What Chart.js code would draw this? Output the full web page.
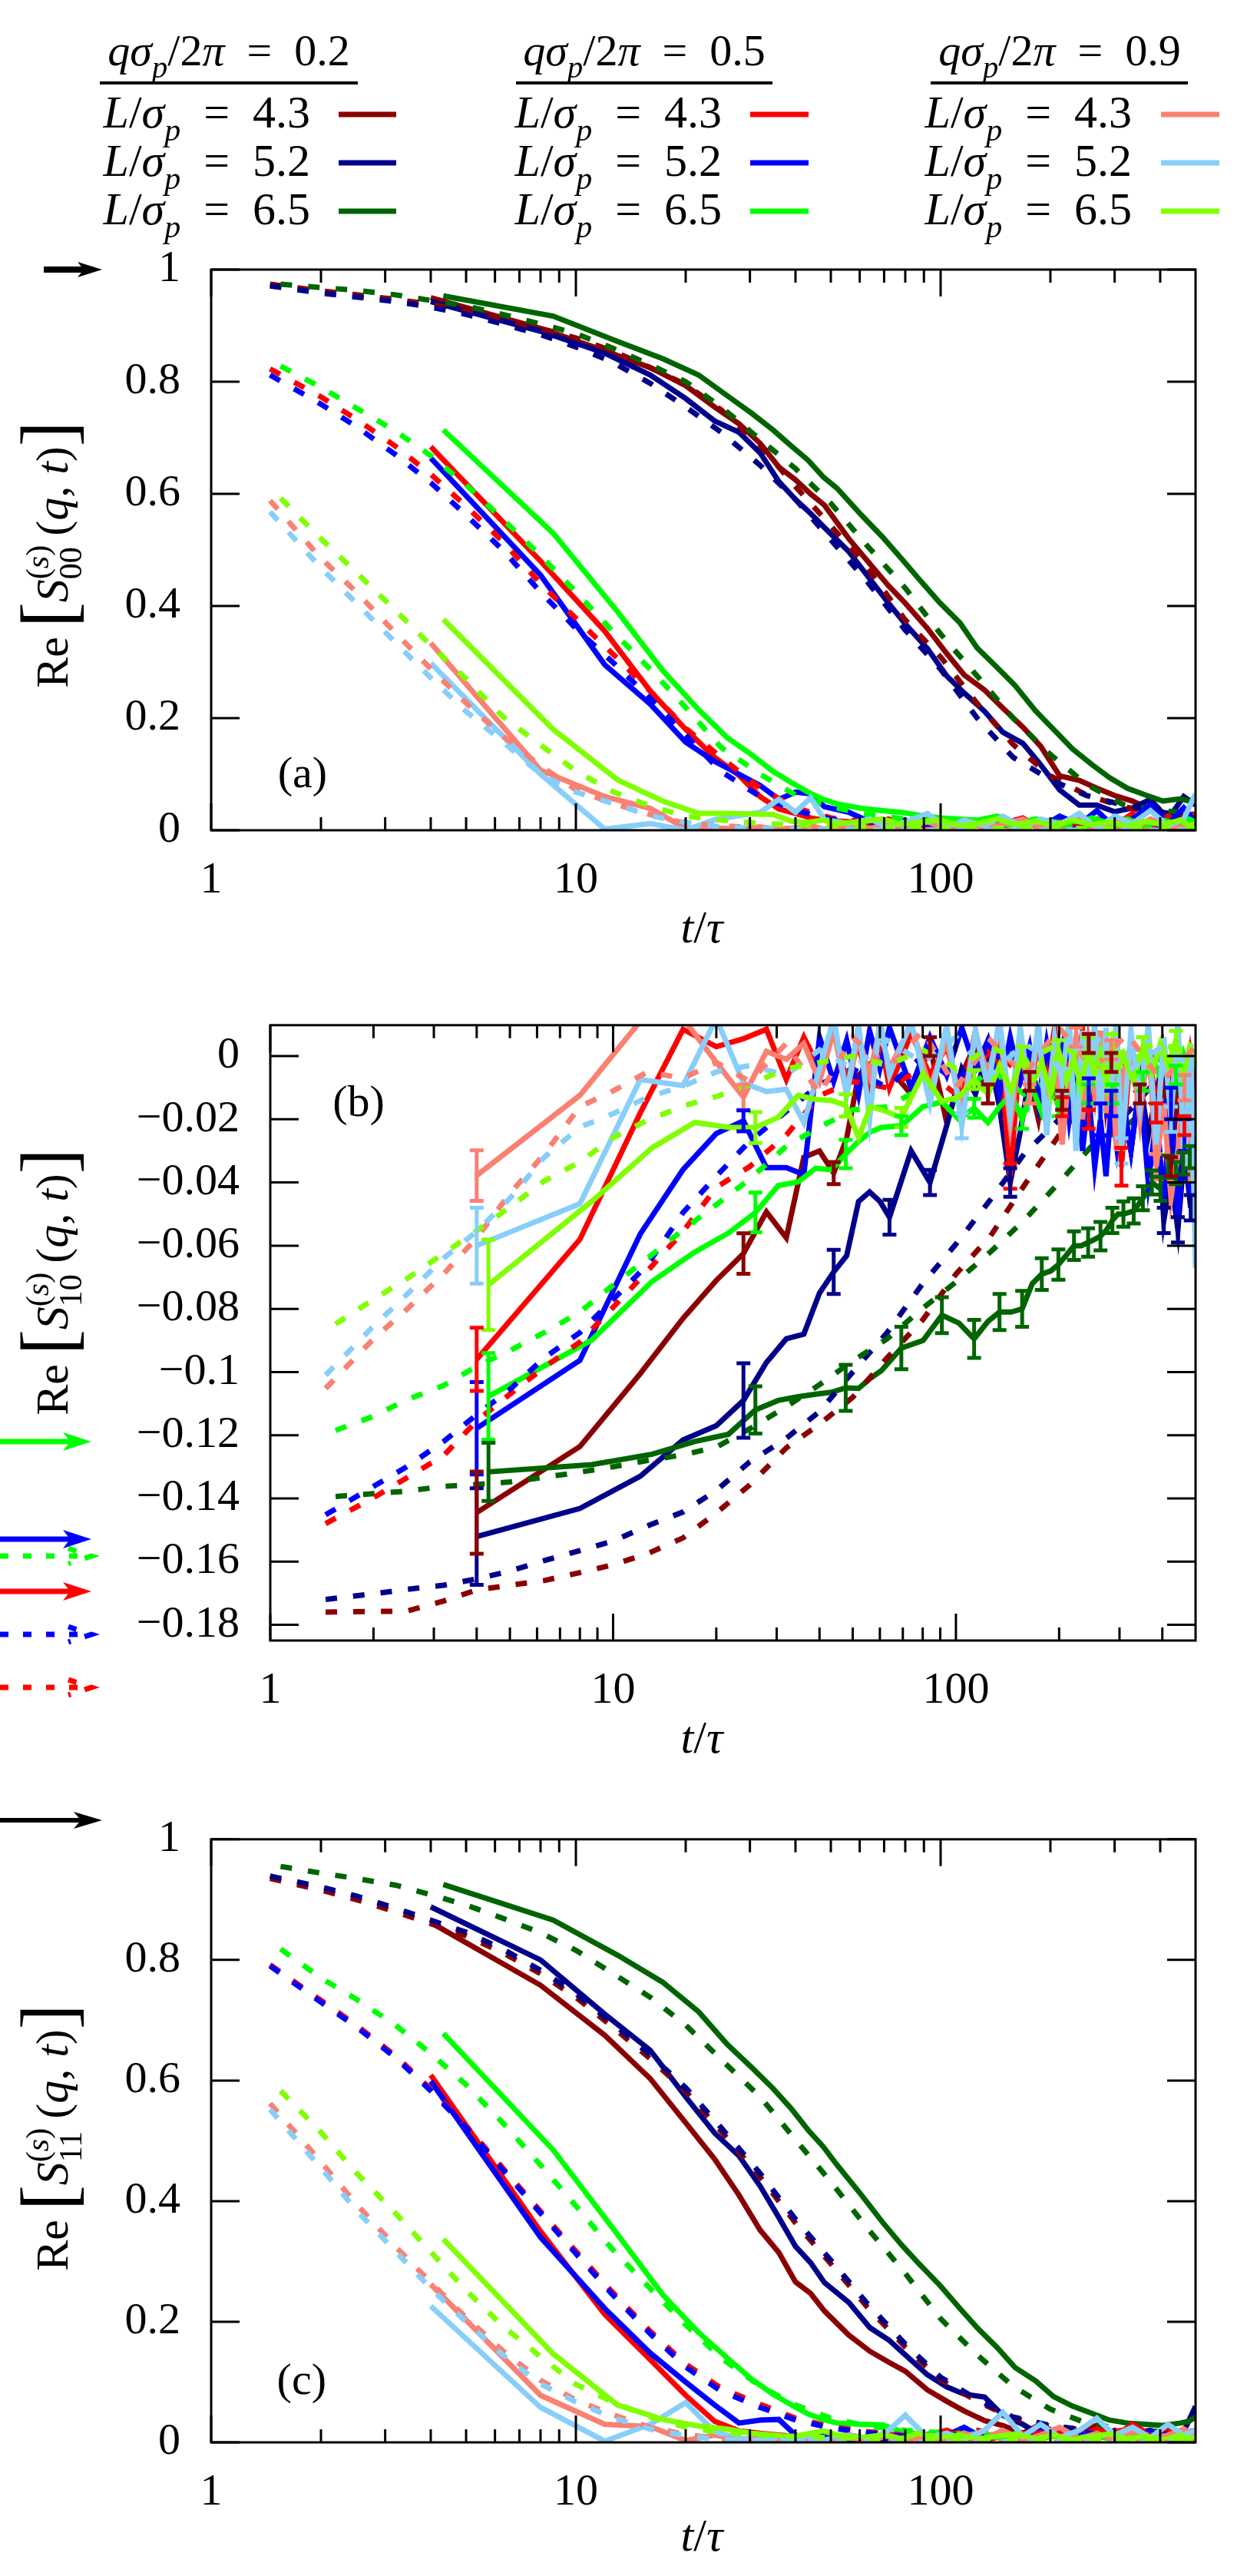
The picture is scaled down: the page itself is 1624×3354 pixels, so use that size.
<!DOCTYPE html>
<html>
<head>
<meta charset="utf-8">
<script src="https://cdn.jsdelivr.net/npm/chart.js@4.4.1/dist/chart.umd.min.js"></script>
<style>
  body { margin: 0; background: #fff; }
  #wrap { position: relative; width: 1624px; height: 3354px; background: #fff; }
  canvas { position: absolute; left: 0; }
</style>
</head>
<body>
<div id="wrap">
  <canvas id="panelA" width="1624" height="1260" style="top:0px"></canvas>
  <canvas id="panelB" width="1624" height="1060" style="top:1260px"></canvas>
  <canvas id="panelC" width="1624" height="1034" style="top:2320px"></canvas>
</div>
<script>
// legend categories
const qValues = ['0.2', '0.5', '0.9'];
const lValues = ['4.3', '5.2', '6.5'];

// axes
const xMajor = [1, 10, 100];
const xMinor = [2, 3, 4, 5, 6, 7, 8, 9, 20, 30, 40, 50, 60, 70, 80, 90, 200, 300, 400];
const yTicksA = [0, 0.2, 0.4, 0.6, 0.8, 1];
const yTicksB = [0, -0.02, -0.04, -0.06, -0.08, -0.1, -0.12, -0.14, -0.16, -0.18];

// time grids: theory curves (dashed) and simulation runs (solid)
const tTh  = [1.45, 2, 2.5, 3.2, 4, 5, 6.3, 8, 10, 12.6, 16, 20, 25, 32, 40, 50, 63, 80, 100, 126, 158, 200, 251, 316, 398, 500];
const tThB = [1.55, 2, 2.5, 3.2, 4, 5, 6.3, 8, 10, 12.6, 16, 20, 25, 32, 40, 50, 63, 80, 100, 126, 158, 200, 251, 316, 398, 500];
const tSimA = [4, 8, 12, 16, 20, 24, 28, 32, 36, 40, 44, 48, 56, 64, 72, 80, 92, 104, 116, 132, 148, 168, 188, 212, 240, 268, 300, 336, 376, 420, 464, 500];
const tSimB = [4.33, 8.66, 13, 17.3, 21.7, 26, 30.3, 34.7, 39, 43.3, 47.7, 52, 60.7, 69.3, 78, 86.7, 99.7, 113, 126, 143, 160, 182, 204, 230, 260, 290, 325, 364, 407, 455, 480, 500];
// denser simulation grids used in panel (b)
const tSimA2 = [4, 8, 12, 16, 20, 24, 28, 32, 36, 40, 44, 48, 52, 56, 60, 64, 74, 84, 94, 104, 114, 124, 134, 144, 154, 164, 174, 184, 194, 204, 214, 224, 234, 244, 254, 264, 274, 284, 294, 304, 324, 344, 364, 384, 404, 424, 444, 464, 484, 500];
const tSimB2 = [4.33, 8.66, 13, 17.3, 21.7, 26, 30.3, 34.7, 39, 43.3, 47.7, 52, 56.3, 60.7, 69.3, 80.2, 91, 102, 113, 124, 134, 145, 156, 167, 178, 189, 199, 210, 221, 232, 243, 254, 264, 275, 286, 297, 308, 330, 351, 373, 395, 416, 438, 460, 481, 500];

// ---- panel (a): S00 ----
const aThDR = [0.974,0.962,0.955,0.947,0.938,0.925,0.91,0.895,0.878,0.855,0.825,0.795,0.75,0.686,0.613,0.543,0.468,0.375,0.309,0.226,0.153,0.097,0.063,0.042,0.03,0.025];
const aThNV = [0.971,0.958,0.951,0.943,0.933,0.92,0.903,0.884,0.862,0.835,0.797,0.755,0.71,0.651,0.59,0.518,0.443,0.357,0.287,0.2,0.13,0.09,0.062,0.045,0.032,0.025];
const aThDG = [0.974,0.968,0.963,0.955,0.945,0.935,0.92,0.903,0.886,0.86,0.83,0.8,0.755,0.697,0.645,0.583,0.507,0.432,0.35,0.275,0.2,0.135,0.082,0.046,0.035,0.03];
const aThR  = [0.823,0.773,0.733,0.685,0.635,0.578,0.515,0.44,0.378,0.315,0.248,0.182,0.13,0.075,0.04,0.022,0.015,0.01,0.008,0.005,0.01,0.004,0.008,0.003,0.006,0.002];
const aThB  = [0.812,0.76,0.72,0.67,0.62,0.562,0.5,0.425,0.36,0.3,0.235,0.17,0.105,0.06,0.035,0.02,0.012,0.008,0.006,0.01,0.004,0.007,0.003,0.009,0.002,0.005];
const aThG  = [0.828,0.79,0.753,0.712,0.668,0.616,0.555,0.49,0.425,0.355,0.287,0.219,0.148,0.1,0.063,0.042,0.028,0.02,0.015,0.012,0.01,0.008,0.007,0.006,0.005,0.005];
const aThS  = [0.588,0.485,0.425,0.352,0.288,0.227,0.168,0.115,0.072,0.048,0.028,0.012,0.008,0.004,0.003,0.002,0.002,0.001,0.001,0,0,0,0,0,0,0];
const aThLB = [0.568,0.468,0.405,0.335,0.272,0.212,0.158,0.1,0.068,0.048,0.026,0.014,0.006,0.003,0.002,0.001,0.001,0,0,0,0,0,0,0,0,0];
const aThYG = [0.592,0.52,0.46,0.392,0.33,0.27,0.203,0.152,0.106,0.069,0.043,0.025,0.018,0.012,0.01,0.008,0.006,0.005,0.004,0.004,0.003,0.003,0.003,0.003,0.003,0.003];

const aDR = [0.95,0.895,0.855,0.825,0.793,0.755,0.725,0.69,0.648,0.625,0.6,0.58,0.52,0.475,0.436,0.405,0.36,0.315,0.277,0.25,0.218,0.184,0.15,0.097,0.089,0.075,0.062,0.052,0.037,0.03,0.026,0.029];
const aNV = [0.943,0.89,0.851,0.812,0.77,0.73,0.71,0.673,0.622,0.59,0.565,0.54,0.497,0.448,0.405,0.368,0.324,0.275,0.245,0.212,0.175,0.155,0.117,0.072,0.045,0.045,0.033,0.04,0.055,0.02,0.06,0.045];
const aDG = [0.953,0.917,0.872,0.841,0.812,0.775,0.744,0.714,0.685,0.66,0.63,0.61,0.562,0.523,0.485,0.45,0.405,0.37,0.325,0.29,0.258,0.213,0.18,0.145,0.117,0.094,0.075,0.063,0.052,0.056,0.052,0.057];
const aR  = [0.684,0.48,0.355,0.248,0.18,0.13,0.098,0.06,0.038,0.03,0.022,0.018,0.015,0.012,0.02,0.01,0.015,0.005,0.018,0.004,0.012,0.022,0.003,0.015,0.006,0.02,0.008,0.03,0.004,0.025,0.01,0.03];
const aB  = [0.664,0.455,0.295,0.225,0.157,0.123,0.1,0.08,0.055,0.068,0.065,0.042,0.032,0.015,0.012,0.018,0.006,0.014,0.003,0.02,0.008,0.015,0.005,0.025,0.01,0.035,0.005,0.02,0.045,0.01,0.04,0.015];
const aG  = [0.714,0.53,0.39,0.285,0.215,0.165,0.135,0.105,0.085,0.068,0.055,0.047,0.039,0.035,0.032,0.027,0.022,0.02,0.018,0.025,0.012,0.02,0.015,0.01,0.022,0.012,0.02,0.008,0.018,0.01,0.02,0.015];
const aS  = [0.334,0.107,0.06,0.039,0.003,0.004,0.002,0.006,0.001,0.004,0.008,0.002,0.01,0.003,0.012,0.004,0.015,0.002,0.018,0.005,0.01,0.02,0.003,0.012,0.025,0.005,0.015,0.002,0.02,0.008,0.004,0.012];
const aLB = [0.298,0.1,0.002,0.012,0,0.019,0.026,0.032,0.055,0.032,0.058,0.019,0.012,0.02,0.005,0.015,0.03,0.004,0.018,0.008,0.025,0.006,0.02,0.01,0.03,0.004,0.025,0.012,0.035,0.008,0.02,0.065];
const aYG = [0.376,0.18,0.09,0.052,0.03,0.03,0.029,0.028,0.016,0.014,0.018,0.012,0.015,0.02,0.01,0.014,0.018,0.008,0.012,0.02,0.01,0.016,0.008,0.018,0.01,0.015,0.007,0.016,0.01,0.018,0.008,0.012];

// ---- panel (b): S10 ----
const bThDR = [-0.176,-0.1758,-0.1757,-0.1725,-0.169,-0.1675,-0.166,-0.1635,-0.161,-0.1575,-0.1525,-0.1446,-0.1358,-0.124,-0.1165,-0.108,-0.0955,-0.0835,-0.069,-0.057,-0.041,-0.025,-0.013,-0.008,-0.02,-0.01];
const bThNV = [-0.172,-0.1702,-0.1688,-0.1675,-0.1655,-0.163,-0.1597,-0.1565,-0.1535,-0.1487,-0.1443,-0.1375,-0.1285,-0.121,-0.1125,-0.1,-0.0875,-0.072,-0.0595,-0.0455,-0.031,-0.02,-0.012,-0.018,-0.006,-0.012];
const bThDG = [-0.1394,-0.1385,-0.1377,-0.1362,-0.1356,-0.1348,-0.1333,-0.1317,-0.13,-0.128,-0.1262,-0.1238,-0.118,-0.111,-0.104,-0.0965,-0.0895,-0.0798,-0.0715,-0.062,-0.052,-0.04,-0.028,-0.022,-0.012,-0.008];
const bThR  = [-0.148,-0.1398,-0.1335,-0.1265,-0.1155,-0.107,-0.0985,-0.0905,-0.0795,-0.068,-0.0555,-0.0415,-0.035,-0.025,-0.0125,-0.008,-0.01,-0.004,-0.012,0.002,-0.006,-0.014,0.004,-0.008,0.002,-0.006];
const bThB  = [-0.1452,-0.1362,-0.13,-0.122,-0.1135,-0.1055,-0.0955,-0.0875,-0.077,-0.066,-0.0495,-0.038,-0.027,-0.0175,-0.009,-0.004,-0.01,0,-0.008,0.003,-0.01,0.004,-0.012,0,-0.016,-0.004];
const bThG  = [-0.1185,-0.114,-0.1088,-0.1043,-0.0982,-0.0932,-0.0875,-0.081,-0.0725,-0.064,-0.055,-0.047,-0.039,-0.0285,-0.0225,-0.017,-0.016,-0.01,-0.014,-0.004,-0.012,-0.006,-0.003,-0.01,0,-0.005];
const bThS  = [-0.1052,-0.0895,-0.0802,-0.069,-0.0575,-0.0435,-0.031,-0.016,-0.011,-0.005,-0.007,-0.002,-0.008,0.004,-0.012,0.006,-0.004,0.008,-0.01,0.005,-0.006,0.009,-0.004,0.007,-0.008,0.003];
const bThLB = [-0.101,-0.0855,-0.0755,-0.064,-0.0555,-0.045,-0.032,-0.0225,-0.0182,-0.013,-0.0095,-0.005,-0.003,-0.006,0.002,-0.004,0.005,-0.002,0.006,-0.006,0.004,-0.003,0.007,-0.005,0.003,-0.004];
const bThYG = [-0.0848,-0.077,-0.0705,-0.0625,-0.0553,-0.0478,-0.0395,-0.0335,-0.0258,-0.0203,-0.0158,-0.0128,-0.009,-0.004,-0.002,0,-0.003,0.002,-0.004,0.003,-0.002,0.004,-0.003,0.002,0.004,0];

// simulations on tSimA2 (L = 4.3, 5.2) and tSimB2 (L = 6.5)
const bDR = [-0.1445,-0.1236,-0.1005,-0.083,-0.071,-0.0625,-0.0493,-0.0575,-0.032,-0.03,-0.037,-0.026,-0.006,-0.003,0.002,-0.004,-0.012,0.003,-0.021,-0.006,0.004,-0.012,-0.002,-0.018,0.005,-0.008,-0.02,-0.004,0.006,-0.014,0.002,-0.01,-0.022,0.004,-0.008,0.008,-0.015,-0.002,0.005,-0.018,0.003,-0.012,0.006,-0.02,-0.006,-0.035,-0.01,-0.028,-0.004,-0.012];
const bNV = [-0.1521,-0.1432,-0.133,-0.1215,-0.117,-0.109,-0.097,-0.0895,-0.088,-0.075,-0.0683,-0.0632,-0.046,-0.043,-0.046,-0.051,-0.03,-0.04,-0.022,-0.004,-0.012,0.002,-0.016,-0.04,-0.024,-0.006,0.004,-0.012,-0.003,-0.018,0.002,-0.01,-0.02,-0.005,0.003,-0.015,-0.006,-0.022,-0.002,-0.014,-0.03,-0.008,-0.025,-0.012,-0.052,-0.038,-0.055,-0.03,-0.048,-0.02];
const bDG = [-0.1316,-0.1293,-0.126,-0.122,-0.1197,-0.112,-0.109,-0.1078,-0.107,-0.1064,-0.105,-0.1052,-0.102,-0.0995,-0.0924,-0.09,-0.082,-0.0845,-0.0895,-0.084,-0.081,-0.081,-0.08,-0.072,-0.069,-0.068,-0.066,-0.063,-0.06,-0.06,-0.059,-0.058,-0.057,-0.055,-0.052,-0.05,-0.05,-0.049,-0.045,-0.04,-0.042,-0.035,-0.037,-0.034,-0.032,-0.029];
const bR  = [-0.096,-0.058,-0.018,0.0085,0.003,0.0055,0.0085,-0.0074,0.006,-0.004,0.009,-0.008,0.004,-0.012,0.006,-0.01,0.007,-0.006,0.003,-0.014,0.008,-0.01,0.004,-0.038,0.002,-0.012,0.005,-0.008,0.009,-0.016,0.003,-0.006,0.008,-0.02,0.002,-0.01,0.006,-0.025,-0.004,-0.035,0.004,-0.012,0.006,-0.018,0.002,-0.01,0.004,-0.022,0,-0.01];
const bB  = [-0.1178,-0.0963,-0.0563,-0.0359,-0.0245,-0.0205,-0.0353,-0.0353,-0.0375,0.006,-0.008,0.005,-0.012,0.008,-0.004,0.009,-0.01,0.006,-0.006,0.009,-0.004,0.005,-0.012,0.006,-0.008,0.003,-0.015,0.004,-0.01,0.002,-0.02,-0.005,-0.03,-0.012,-0.035,-0.02,-0.038,-0.015,-0.028,-0.01,-0.03,-0.008,-0.04,-0.02,-0.045,-0.015,-0.05,-0.025,-0.045,-0.02];
const bG  = [-0.1077,-0.0899,-0.0713,-0.062,-0.056,-0.0495,-0.041,-0.0398,-0.0355,-0.036,-0.031,-0.027,-0.024,-0.0226,-0.022,-0.016,-0.0145,-0.02,-0.0165,-0.021,-0.016,-0.012,-0.02,-0.01,-0.018,-0.008,-0.016,-0.006,-0.014,-0.004,-0.012,-0.003,-0.01,-0.002,-0.012,-0.004,-0.009,-0.002,-0.008,0,-0.007,-0.002,-0.006,0.001,-0.005,-0.002];
const bS  = [-0.0378,-0.0124,0.011,0.012,-0.002,-0.013,0.0015,-0.001,0.004,-0.008,0.008,-0.012,0.006,-0.006,0.009,-0.004,0.01,-0.01,0.005,-0.018,0.007,-0.006,0.009,-0.022,0.003,-0.012,0.008,-0.015,0.004,-0.028,-0.005,0.006,-0.02,0.003,-0.012,0.008,-0.018,0.002,-0.03,-0.008,0.004,-0.02,0.006,-0.035,-0.015,-0.045,-0.03,-0.01,-0.04,-0.01];
const bLB = [-0.06,-0.0467,-0.0074,-0.0093,0.012,-0.0085,-0.0112,-0.0105,-0.021,-0.004,0.012,-0.012,0.01,-0.02,0.012,-0.006,0.011,-0.015,0.01,-0.022,0.008,-0.01,0.012,-0.018,0.009,-0.012,0.011,-0.025,0.006,-0.008,0.012,-0.03,0.008,-0.01,0.011,-0.02,0.009,-0.012,0.012,-0.03,0.008,-0.015,0.01,-0.028,0.006,-0.02,0.011,-0.035,0.004,-0.067];
const bYG = [-0.0724,-0.046,-0.029,-0.021,-0.0225,-0.0226,-0.0194,-0.0124,-0.0137,-0.014,-0.0156,-0.0258,-0.016,-0.017,-0.0194,-0.0055,-0.0143,-0.013,-0.0074,-0.012,-0.003,-0.011,0,-0.009,-0.002,-0.012,0.002,-0.008,-0.001,-0.01,0.003,-0.006,0.001,-0.009,0.004,-0.004,0,-0.008,0.003,-0.005,0.004,-0.003,0.005,-0.006,0.003,0];

// error bars of panel (b): [point index, half width]
const bDRerr = [[0,0.013],[5,0.0064],[10,0.0035],[17,0.003],[21,0.003],[25,0.003],[29,0.003],[33,0.003],[37,0.003],[41,0.003],[45,0.003]];
const bNVerr = [[0,0.0153],[5,0.0118],[10,0.007],[15,0.0055],[17,0.004],[23,0.0045],[44,0.004],[46,0.004],[48,0.004]];
const bDGerr = [[0,0.0092],[5,0.0075],[10,0.0073],[14,0.0067],[16,0.0057],[18,0.006],[20,0.0057],[22,0.0057],[24,0.005],[26,0.0048],[28,0.0045],[30,0.0045],[32,0.0045],[34,0.004],[36,0.004],[37,0.004],[38,0.0038],[39,0.0038],[40,0.0038],[41,0.0035],[42,0.0035],[43,0.0035],[44,0.0035]];
const bRerr  = [[0,0.01],[23,0.004],[29,0.003],[33,0.003],[39,0.006],[43,0.003],[47,0.003]];
const bBerr  = [[0,0.0146],[5,0.0033],[33,0.005],[35,0.005],[37,0.004],[45,0.005],[47,0.005]];
const bGerr  = [[0,0.0137],[5,0.0063],[10,0.0045],[14,0.003],[18,0.003],[22,0.003],[26,0.003],[30,0.003],[34,0.003],[38,0.003],[42,0.003]];
const bSerr  = [[0,0.008],[5,0.004],[25,0.003],[31,0.003],[37,0.003],[43,0.004],[47,0.004]];
const bLBerr = [[0,0.012],[19,0.004],[29,0.004],[39,0.004],[45,0.004]];
const bYGerr = [[0,0.0143],[5,0.0049],[10,0.0035],[14,0.003],[18,0.003],[22,0.003],[26,0.003],[30,0.003],[34,0.003],[38,0.003],[42,0.003]];

// ---- panel (c): S11 ----
const cThDR = [0.935,0.916,0.9,0.88,0.86,0.84,0.812,0.777,0.738,0.689,0.636,0.582,0.516,0.44,0.364,0.296,0.224,0.158,0.104,0.068,0.04,0.027,0.02,0.016,0.014,0.012];
const cThNV = [0.939,0.921,0.906,0.886,0.866,0.846,0.818,0.783,0.744,0.695,0.642,0.588,0.522,0.446,0.37,0.302,0.23,0.163,0.108,0.071,0.042,0.028,0.02,0.018,0.015,0.013];
const cThDG = [0.955,0.944,0.935,0.924,0.908,0.891,0.869,0.845,0.816,0.778,0.738,0.692,0.635,0.573,0.502,0.432,0.355,0.28,0.205,0.145,0.093,0.055,0.032,0.022,0.018,0.015];
const cThR  = [0.792,0.733,0.692,0.641,0.586,0.525,0.455,0.383,0.317,0.249,0.184,0.13,0.09,0.063,0.04,0.026,0.018,0.012,0.012,0.02,0.01,0.018,0.012,0.02,0.01,0.015];
const cThB  = [0.79,0.73,0.689,0.638,0.583,0.522,0.452,0.38,0.313,0.245,0.18,0.125,0.085,0.058,0.037,0.024,0.016,0.01,0.015,0.008,0.014,0.006,0.016,0.008,0.012,0.006];
const cThG  = [0.818,0.77,0.735,0.692,0.645,0.593,0.53,0.46,0.392,0.32,0.255,0.195,0.14,0.093,0.062,0.04,0.027,0.02,0.016,0.013,0.012,0.01,0.01,0.009,0.008,0.008];
const cThS  = [0.562,0.465,0.395,0.325,0.265,0.207,0.152,0.103,0.07,0.046,0.025,0.013,0.006,0.003,0.002,0.002,0.001,0.001,0.001,0,0,0,0,0,0,0];
const cThLB = [0.552,0.455,0.385,0.317,0.255,0.2,0.145,0.097,0.067,0.041,0.022,0.011,0.005,0.003,0.002,0.001,0.001,0,0,0,0,0,0,0,0,0];
const cThYG = [0.583,0.514,0.447,0.38,0.316,0.252,0.193,0.142,0.096,0.067,0.042,0.025,0.016,0.012,0.01,0.008,0.007,0.006,0.005,0.005,0.004,0.004,0.004,0.003,0.003,0.003];

const cDR = [0.862,0.758,0.675,0.603,0.53,0.47,0.41,0.352,0.315,0.266,0.247,0.218,0.178,0.151,0.133,0.118,0.087,0.068,0.052,0.036,0.028,0.015,0.03,0.012,0.02,0.028,0.012,0.025,0.01,0.022,0.015,0.02];
const cNV = [0.888,0.8,0.71,0.65,0.573,0.513,0.475,0.425,0.373,0.325,0.298,0.265,0.232,0.19,0.17,0.145,0.112,0.092,0.08,0.075,0.045,0.03,0.012,0.022,0.01,0.018,0.008,0.015,0.02,0.012,0.018,0.06];
const cDG = [0.925,0.866,0.808,0.763,0.714,0.66,0.622,0.587,0.553,0.518,0.49,0.46,0.41,0.365,0.328,0.298,0.26,0.222,0.19,0.157,0.124,0.102,0.076,0.06,0.048,0.037,0.032,0.03,0.028,0.032,0.035,0.042];
const cR  = [0.609,0.35,0.212,0.137,0.078,0.035,0.019,0.015,0.012,0.01,0.014,0.008,0.012,0.006,0.015,0.004,0.012,0.02,0.008,0.004,0.01,0.015,0.004,0.018,0.008,0.022,0.01,0.03,0.012,0.025,0.01,0.02];
const cB  = [0.599,0.34,0.222,0.148,0.1,0.062,0.032,0.037,0.038,0.012,0.006,0.012,0.004,0.01,0.003,0.015,0.005,0.012,0.025,0.006,0.012,0.004,0.02,0.008,0.015,0.005,0.02,0.008,0.018,0.006,0.012,0.008];
const cG  = [0.678,0.485,0.345,0.245,0.182,0.14,0.105,0.08,0.062,0.047,0.038,0.032,0.03,0.029,0.018,0.014,0.012,0.01,0.015,0.008,0.012,0.006,0.01,0.005,0.012,0.006,0.01,0.004,0.008,0.005,0.01,0.006];
const cS  = [0.262,0.078,0.03,0.026,0.003,0.012,0.005,0.008,0.002,0.006,0.01,0.003,0.008,0.002,0.012,0.004,0.01,0.003,0.015,0.006,0.02,0.004,0.012,0.025,0.006,0.015,0.004,0.018,0.006,0.012,0.022,0.01];
const cLB = [0.226,0.058,0.002,0.03,0.066,0.018,0.006,0.003,0.008,0.002,0.01,0.004,0.012,0.005,0.02,0.045,0.008,0.015,0.005,0.02,0.05,0.01,0.03,0.008,0.02,0.04,0.012,0.025,0.008,0.03,0.012,0.02];
const cYG = [0.337,0.147,0.062,0.038,0.027,0.022,0.015,0.012,0.009,0.014,0.019,0.012,0.008,0.012,0.006,0.015,0.008,0.012,0.005,0.01,0.014,0.006,0.012,0.004,0.01,0.014,0.006,0.01,0.004,0.012,0.006,0.008];

const SERIF = '"Liberation Serif", "Times New Roman", serif';
const COL = {
  dr: '#8b0000', nv: '#00008b', dg: '#006400',
  r: '#ff0000', b: '#0000ff', g: '#00ff00',
  s: '#fa8072', lb: '#87cefa', yg: '#7fff00'
};
const LW = 7;

function line(ts, ys, color, dashed, err) {
  return {
    data: ts.map((t, i) => ({ x: t, y: ys[i] })),
    borderColor: color,
    borderWidth: LW,
    borderDash: dashed ? [15, 21] : [],
    pointRadius: 0,
    tension: 0,
    fill: false,
    clip: 0,
    errorBars: err || null
  };
}

// rich text: parts {t, i: italic, s: scale, dy: baseline shift (em), w0: no advance}
function fnt(p, size) {
  return (p.i ? 'italic ' : '') + Math.round(size * (p.s || 1)) + 'px ' + SERIF;
}
function drawRich(ctx, parts, x, y, size, align) {
  let w = 0;
  parts.forEach(p => { ctx.font = fnt(p, size); if (!p.w0) w += ctx.measureText(p.t).width; });
  let cx = align === 'center' ? x - w / 2 : (align === 'right' ? x - w : x);
  ctx.textAlign = 'left';
  ctx.textBaseline = 'alphabetic';
  ctx.fillStyle = '#000';
  parts.forEach(p => {
    ctx.font = fnt(p, size);
    ctx.fillText(p.t, cx, y + (p.dy || 0) * size);
    if (!p.w0) cx += ctx.measureText(p.t).width;
  });
}

function arrow(ctx, a) {
  ctx.save();
  ctx.strokeStyle = a.color;
  ctx.fillStyle = a.color;
  ctx.lineWidth = a.lw;
  if (a.dash) {
    ctx.setLineDash([11, 19]);
    ctx.beginPath();
    ctx.moveTo(a.x0, a.y); ctx.lineTo(a.x1, a.y);
    ctx.moveTo(a.x1 - a.hl, a.y - a.hh); ctx.lineTo(a.x1, a.y); ctx.lineTo(a.x1 - a.hl, a.y + a.hh);
    ctx.stroke();
  } else {
    ctx.beginPath();
    ctx.moveTo(a.x0, a.y); ctx.lineTo(a.x1 - a.hl * 0.6, a.y);
    ctx.stroke();
    ctx.beginPath();
    ctx.moveTo(a.x1, a.y);
    ctx.lineTo(a.x1 - a.hl, a.y - a.hh);
    ctx.lineTo(a.x1 - a.hl * 0.75, a.y);
    ctx.lineTo(a.x1 - a.hl, a.y + a.hh);
    ctx.closePath();
    ctx.fill();
  }
  ctx.restore();
}

function drawLegend(ctx) {
  const cols = [
    { cx: 298, u0: 130, u1: 466, rx: 404, s0: 441, s1: 516, colors: [COL.dr, COL.nv, COL.dg] },
    { cx: 839, u0: 672, u1: 1006, rx: 940, s0: 977, s1: 1053, colors: [COL.r, COL.b, COL.g] },
    { cx: 1380, u0: 1212, u1: 1547, rx: 1474, s0: 1512, s1: 1588, colors: [COL.s, COL.lb, COL.yg] }
  ];
  const rowsY = [149, 212, 275];
  cols.forEach((c, ci) => {
    drawRich(ctx, [
      { t: 'q', i: true }, { t: 'σ', i: true }, { t: 'p', i: true, s: 0.7, dy: 0.28 },
      { t: '/' }, { t: '2' }, { t: 'π', i: true }, { t: '\u2002=\u2002' + qValues[ci] }
    ], c.cx, 85, 58, 'center');
    ctx.fillStyle = '#000';
    ctx.fillRect(c.u0, 106, c.u1 - c.u0, 4);
    rowsY.forEach((ry, ri) => {
      drawRich(ctx, [
        { t: 'L', i: true }, { t: '/' }, { t: 'σ', i: true }, { t: 'p', i: true, s: 0.7, dy: 0.28 },
        { t: '\u2002=\u2002' + lValues[ri] }
      ], c.rx, ry + 17, 60, 'right');
      ctx.save();
      ctx.strokeStyle = c.colors[ri];
      ctx.lineWidth = 7;
      ctx.beginPath(); ctx.moveTo(c.s0, ry); ctx.lineTo(c.s1, ry); ctx.stroke();
      ctx.restore();
    });
  });
}

const decor = {
  id: 'decor',
  afterDatasetsDraw(chart, args, o) {
    const ctx = chart.ctx;
    const a = chart.chartArea;
    const xs = chart.scales.x, ys = chart.scales.y;

    // error bars
    ctx.save();
    ctx.beginPath();
    ctx.rect(a.left, a.top, a.right - a.left, a.bottom - a.top);
    ctx.clip();
    chart.data.datasets.forEach(ds => {
      if (!ds.errorBars) return;
      ctx.strokeStyle = ds.borderColor;
      ctx.lineWidth = 5;
      ctx.setLineDash([]);
      ds.errorBars.forEach(([i, e]) => {
        const p = ds.data[i];
        const px = xs.getPixelForValue(p.x);
        const y1 = ys.getPixelForValue(p.y - e), y2 = ys.getPixelForValue(p.y + e);
        ctx.beginPath();
        ctx.moveTo(px, y1); ctx.lineTo(px, y2);
        ctx.moveTo(px - 9, y1); ctx.lineTo(px + 9, y1);
        ctx.moveTo(px - 9, y2); ctx.lineTo(px + 9, y2);
        ctx.stroke();
      });
    });
    ctx.restore();

    // frame and inward ticks on all sides
    ctx.save();
    ctx.strokeStyle = '#000';
    ctx.lineWidth = 3;
    ctx.setLineDash([]);
    ctx.strokeRect(a.left, a.top, a.right - a.left, a.bottom - a.top);
    ctx.beginPath();
    xMajor.concat(xMinor).forEach(v => {
      const len = xMajor.includes(v) ? 35 : 17;
      const px = xs.getPixelForValue(v);
      ctx.moveTo(px, a.bottom); ctx.lineTo(px, a.bottom - len);
      ctx.moveTo(px, a.top); ctx.lineTo(px, a.top + len);
    });
    o.yticks.forEach(v => {
      const py = ys.getPixelForValue(v);
      ctx.moveTo(a.left, py); ctx.lineTo(a.left + 37, py);
      ctx.moveTo(a.right, py); ctx.lineTo(a.right - 37, py);
    });
    ctx.stroke();
    ctx.restore();

    // panel letter
    drawRich(ctx, [{ t: o.letter }], xs.getPixelForValue(o.letterAt[0]), ys.getPixelForValue(o.letterAt[1]) + 15, 58, 'center');

    // axis titles
    drawRich(ctx, [{ t: 't', i: true }, { t: '/' }, { t: 'τ', i: true }], 914, o.xTitleY + 17, 60, 'center');
    ctx.save();
    ctx.translate(88, o.yTitleY);
    ctx.rotate(-Math.PI / 2);
    drawRich(ctx, [
      { t: 'Re' }, { t: '\u2009' }, { t: '[', s: 1.65, dy: 0.13 },
      { t: 'S', i: true },
      { t: o.sub, s: 0.7, dy: 0.3, w0: true },
      { t: '(', s: 0.7, dy: -0.42 }, { t: 's', i: true, s: 0.7, dy: -0.42 }, { t: ')', s: 0.7, dy: -0.42 },
      { t: '\u2009' },
      { t: '(' }, { t: 'q', i: true }, { t: ', ' }, { t: 't', i: true }, { t: ')' },
      { t: ']', s: 1.65, dy: 0.13 }
    ], 0, 0, 60, 'center');
    ctx.restore();

    // arrows at the left margin
    (o.arrows || []).forEach(ar => arrow(ctx, ar));

    if (o.legend) drawLegend(ctx);
  }
};

function makePanel(id, cfg) {
  return new Chart(document.getElementById(id), {
    type: 'line',
    data: { datasets: cfg.sets.slice().reverse() },
    options: {
      responsive: false,
      animation: false,
      devicePixelRatio: 1,
      layout: { padding: { top: cfg.top, right: 67, left: 0, bottom: 0 } },
      plugins: { legend: { display: false }, tooltip: { enabled: false }, decor: cfg.decor },
      elements: { point: { radius: 0 }, line: { tension: 0 } },
      scales: {
        x: {
          type: 'logarithmic', min: 1, max: 500,
          grid: { display: false, drawTicks: false }, border: { display: false },
          afterFit: s => { s.height = cfg.xh; },
          afterBuildTicks: s => { s.ticks = xMajor.map(v => ({ value: v })); },
          ticks: { font: { family: SERIF, size: 58 }, color: '#000', padding: 31, autoSkip: false, maxRotation: 0, callback: v => String(v) }
        },
        y: {
          type: 'linear', min: cfg.ymin, max: cfg.ymax,
          grid: { display: false, drawTicks: false }, border: { display: false },
          afterFit: s => { s.width = cfg.yw; },
          afterBuildTicks: s => { s.ticks = cfg.decor.yticks.map(v => ({ value: v })); },
          ticks: { font: { family: SERIF, size: 58 }, color: '#000', padding: 40, autoSkip: false, callback: cfg.fmt }
        }
      }
    },
    plugins: [decor]
  });
}

const fmtPos = v => String(v);
const fmtNeg = v => v === 0 ? '0' : '\u2212' + String(Math.abs(v));

makePanel('panelA', {
  top: 351, xh: 179, yw: 275, ymin: 0, ymax: 1, fmt: fmtPos,
  sets: [
    line(tSimA, aDR, COL.dr), line(tSimA, aNV, COL.nv), line(tSimB, aDG, COL.dg),
    line(tTh, aThDR, COL.dr, true), line(tTh, aThNV, COL.nv, true), line(tThB, aThDG, COL.dg, true),
    line(tSimA, aR, COL.r), line(tSimA, aB, COL.b), line(tSimB, aG, COL.g),
    line(tTh, aThR, COL.r, true), line(tTh, aThB, COL.b, true), line(tThB, aThG, COL.g, true),
    line(tSimA, aS, COL.s), line(tSimA, aLB, COL.lb), line(tSimB, aYG, COL.yg),
    line(tTh, aThS, COL.s, true), line(tTh, aThLB, COL.lb, true), line(tThB, aThYG, COL.yg, true)
  ],
  decor: {
    yticks: yTicksA, letter: '(a)', letterAt: [1.78, 0.097], sub: '00',
    xTitleY: 1210, yTitleY: 722, legend: true,
    arrows: [{ x0: 57, x1: 133, y: 351, color: '#000', lw: 8, hl: 32, hh: 10 }]
  }
});

makePanel('panelB', {
  top: 63, xh: 184, yw: 352, ymin: -0.185, ymax: 0.0098, fmt: fmtNeg,
  sets: [
    line(tSimA2, bDR, COL.dr, false, bDRerr), line(tSimA2, bNV, COL.nv, false, bNVerr), line(tSimB2, bDG, COL.dg, false, bDGerr),
    line(tTh, bThDR, COL.dr, true), line(tTh, bThNV, COL.nv, true), line(tThB, bThDG, COL.dg, true),
    line(tSimA2, bR, COL.r, false, bRerr), line(tSimA2, bB, COL.b, false, bBerr), line(tSimB2, bG, COL.g, false, bGerr),
    line(tTh, bThR, COL.r, true), line(tTh, bThB, COL.b, true), line(tThB, bThG, COL.g, true),
    line(tSimA2, bS, COL.s, false, bSerr), line(tSimA2, bLB, COL.lb, false, bLBerr), line(tSimB2, bYG, COL.yg, false, bYGerr),
    line(tTh, bThS, COL.s, true), line(tTh, bThLB, COL.lb, true), line(tThB, bThYG, COL.yg, true)
  ],
  decor: {
    yticks: yTicksB, letter: '(b)', letterAt: [1.81, -0.0154], sub: '10',
    xTitleY: 1005, yTitleY: 409,
    arrows: [
      { x0: 0, x1: 119, y: 617, color: COL.g, lw: 7, hl: 37, hh: 12 },
      { x0: 0, x1: 119, y: 744, color: COL.b, lw: 7, hl: 37, hh: 12 },
      { x0: 0, x1: 119, y: 766, color: COL.g, lw: 7, hl: 30, hh: 10, dash: true },
      { x0: 0, x1: 119, y: 812, color: COL.r, lw: 7, hl: 37, hh: 12 },
      { x0: 0, x1: 119, y: 868, color: COL.b, lw: 7, hl: 30, hh: 10, dash: true },
      { x0: 0, x1: 119, y: 937, color: COL.r, lw: 7, hl: 30, hh: 10, dash: true }
    ]
  }
});

makePanel('panelC', {
  top: 53, xh: 174, yw: 275, ymin: 0, ymax: 1, fmt: fmtPos,
  sets: [
    line(tSimA, cDR, COL.dr), line(tSimA, cNV, COL.nv), line(tSimB, cDG, COL.dg),
    line(tTh, cThDR, COL.dr, true), line(tTh, cThNV, COL.nv, true), line(tThB, cThDG, COL.dg, true),
    line(tSimA, cR, COL.r), line(tSimA, cB, COL.b), line(tSimB, cG, COL.g),
    line(tTh, cThR, COL.r, true), line(tTh, cThB, COL.b, true), line(tThB, cThG, COL.g, true),
    line(tSimA, cS, COL.s), line(tSimA, cLB, COL.lb), line(tSimB, cYG, COL.yg),
    line(tTh, cThS, COL.s, true), line(tTh, cThLB, COL.lb, true), line(tThB, cThYG, COL.yg, true)
  ],
  decor: {
    yticks: yTicksA, letter: '(c)', letterAt: [1.77, 0.099], sub: '11',
    xTitleY: 984, yTitleY: 463,
    arrows: [{ x0: 0, x1: 133, y: 50, color: '#000', lw: 6, hl: 37, hh: 11 }]
  }
});
</script>
</body>
</html>
